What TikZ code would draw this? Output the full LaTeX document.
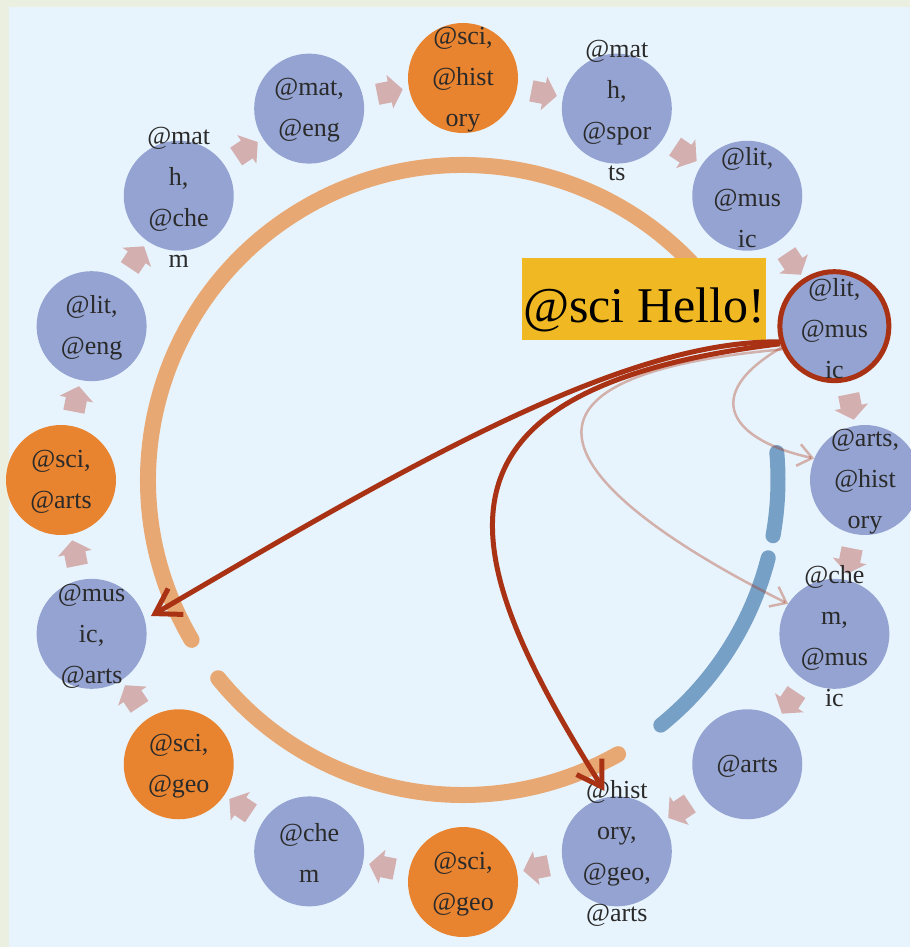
\documentclass[tikz,border=0pt]{standalone}
\usepackage{fontspec}
\setmainfont{Liberation Serif}
\usetikzlibrary{arrows.meta,shapes.arrows,calc}
\definecolor{frame}{HTML}{EAEFE0}
\definecolor{panel}{HTML}{E8F4FD}
\definecolor{bubble}{HTML}{94A3D1}
\definecolor{hot}{HTML}{E8832F}
\definecolor{ink}{HTML}{2A2A2A}
\definecolor{flow}{HTML}{D4AFAF}
\definecolor{ringA}{HTML}{E8A873}
\definecolor{ringB}{HTML}{76A0C6}
\definecolor{alert}{HTML}{A93214}
\definecolor{tag}{HTML}{F0B823}
\begin{document}
\begin{tikzpicture}[x=1pt,y=1pt,
  bubble/.style={circle, fill=bubble, minimum size=110pt, inner sep=0pt},
  hotbubble/.style={bubble, fill=hot},
  words/.style={text=ink, align=center, inner sep=0pt, font=\fontsize{26}{41}\selectfont},
  flowarrow/.style={single arrow, fill=flow, minimum height=26pt, inner xsep=0pt, inner ysep=10.5pt,
    single arrow head extend=6.5pt, single arrow tip angle=105, outer sep=0pt},
  ring/.style={line width=16pt, line cap=round},
  heavy/.style={draw=alert, line width=5pt, -{Straight Barb[length=24pt,width=30pt]}, shorten >=7pt},
  light/.style={draw=alert, draw opacity=0.35, line width=2.5pt, -{Straight Barb[length=14pt,width=22pt]}},
]
\useasboundingbox (0,0) rectangle (910,-947);
% page and panel
\fill[frame] (0,0) rectangle (910,-947);
\fill[panel] (9,-7) rectangle (910,-947);

\coordinate (c) at (463,-480);

% inner ring segments
\draw[ringA, ring] ($(c)+(31:315)$) arc[start angle=31, end angle=210.5, radius=315];
\draw[ringA, ring] ($(c)+(219:315)$) arc[start angle=219, end angle=299.5, radius=315];
\draw[ringB, ring, line width=15pt] ($(c)+(5:315)$) arc[start angle=5, end angle=-10.2, radius=315];
\draw[ringB, ring, line width=15pt] ($(c)+(-14.3:315)$) arc[start angle=-14.3, end angle=-51.1, radius=315];

% caption box
\node[fill=tag, minimum width=244pt, minimum height=82pt, inner sep=0pt,
      text height=46pt, text depth=0pt,
      font=\fontsize{50}{60}\selectfont, text=black] (tagbox) at (644,-299) {@sci Hello!};

% circle of topic bubbles
\node[hotbubble] (n1)  at ($(c)+(90:402)$) {};
\node[bubble]    (n2)  at ($(c)+(67.5:402)$) {};
\node[bubble]    (n3)  at ($(c)+(45:402)$) {};
\node[bubble, draw=alert, line width=5pt, minimum size=109pt] (n4) at ($(c)+(22.5:402)$) {};
\node[bubble]    (n5)  at ($(c)+(0:402)$) {};
\node[bubble]    (n6)  at ($(c)+(-22.5:402)$) {};
\node[bubble]    (n7)  at ($(c)+(-45:402)$) {};
\node[bubble]    (n8)  at ($(c)+(-67.5:402)$) {};
\node[hotbubble] (n9)  at ($(c)+(-90:402)$) {};
\node[bubble]    (n10) at ($(c)+(-112.5:402)$) {};
\node[hotbubble] (n11) at ($(c)+(-135:402)$) {};
\node[bubble]    (n12) at ($(c)+(-157.5:402)$) {};
\node[hotbubble] (n13) at ($(c)+(180:402)$) {};
\node[bubble]    (n14) at ($(c)+(157.5:402)$) {};
\node[bubble]    (n15) at ($(c)+(135:402)$) {};
\node[bubble]    (n16) at ($(c)+(112.5:402)$) {};

% clockwise flow markers between neighbours
\foreach \i in {0,...,15} {
  \pgfmathsetmacro\ang{90-22.5*\i-11.25}
  \node[flowarrow, rotate=\ang-90] (f\i) at ($(c)+(\ang:395)$) {};
}

% bubble texts
\node[words] (t1)  at ([yshift=-2pt]n1)  {@sci,\\@hist\\ory};
\node[words] (t2)  at ([yshift=-2pt]n2)  {@mat\\h,\\@spor\\ts};
\node[words] (t3)  at ([yshift=-2pt]n3)  {@lit,\\@mus\\ic};
\node[words] (t4)  at ([yshift=-2pt]n4)  {@lit,\\@mus\\ic};
\node[words] (t5)  at ([yshift=-2pt]n5)  {@arts,\\@hist\\ory};
\node[words] (t6)  at ([yshift=-2pt]n6)  {@che\\m,\\@mus\\ic};
\node[words] (t7)  at ([yshift=-2pt]n7)  {@arts};
\node[words] (t8)  at ([yshift=-2pt]n8)  {@hist\\ory,\\@geo,\\@arts};
\node[words] (t9)  at ([yshift=-2pt]n9)  {@sci,\\@geo};
\node[words] (t10) at ([yshift=-2pt]n10) {@che\\m};
\node[words] (t11) at ([yshift=-2pt]n11) {@sci,\\@geo};
\node[words] (t12) at ([yshift=-2pt]n12) {@mus\\ic,\\@arts};
\node[words] (t13) at ([yshift=-2pt]n13) {@sci,\\@arts};
\node[words] (t14) at ([yshift=-2pt]n14) {@lit,\\@eng};
\node[words] (t15) at ([yshift=-2pt]n15) {@mat\\h,\\@che\\m};
\node[words] (t16) at ([yshift=-2pt]n16) {@mat,\\@eng};

% links out of the highlighted bubble
\draw[heavy] (n4.196) .. controls (620,-340) and (400,-470) .. (n12.15);
\draw[heavy] (n4.198) .. controls (400,-390) and (460,-560) .. (n8.99);
\draw[light] (n4.202) .. controls (700,-395) and (730,-440) .. (n5.157);
\draw[light] (n4.204) .. controls (440,-380) and (600,-510) .. (n6.147);
\end{tikzpicture}
\end{document}
